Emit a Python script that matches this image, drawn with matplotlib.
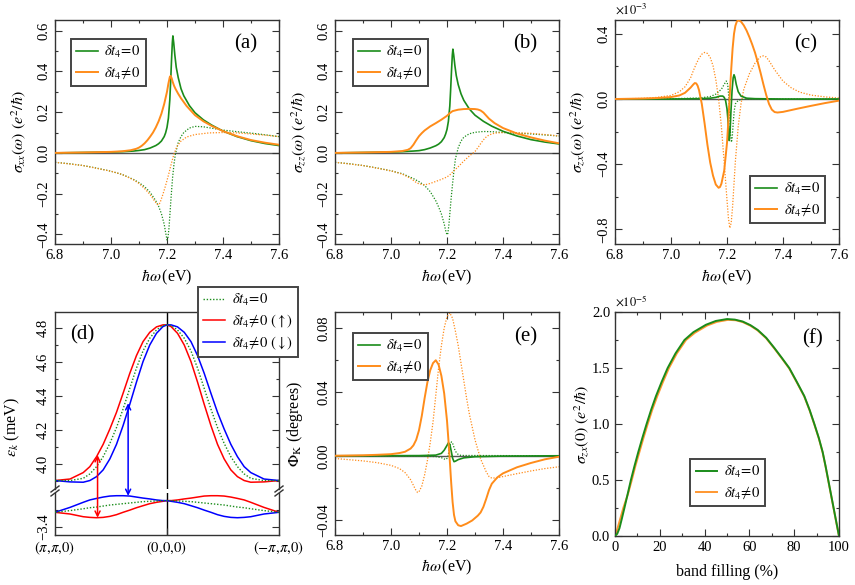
import matplotlib
matplotlib.use("Agg")
import matplotlib.pyplot as plt
from matplotlib.ticker import MultipleLocator, FixedLocator, FormatStrFormatter
from matplotlib.patches import ConnectionPatch
from matplotlib.lines import Line2D

plt.rcParams['font.family'] = ['Liberation Serif', 'DejaVu Serif']
plt.rcParams['mathtext.fontset'] = 'stix'
plt.rcParams['axes.unicode_minus'] = True

GREEN = '#1a8c1a'
ORANGE = '#ff8c1a'
lab0 = r'$\delta t_4\!=\!0$'
lab1 = r'$\delta t_4\!\neq\!0$'

# ---- (a) sigma_xx ----
a_xg = [6.80, 6.85, 6.90, 6.95, 7.00, 7.04, 7.08, 7.10, 7.12, 7.14, 7.16, 7.17, 7.18, 7.19, 7.195, 7.20, 7.205, 7.21, 7.213, 7.216, 7.219, 7.221, 7.224, 7.228, 7.233, 7.24, 7.25, 7.26, 7.28, 7.30, 7.33, 7.36, 7.40, 7.45, 7.50, 7.55, 7.60]
a_g = [0.000, 0.001, 0.002, 0.003, 0.004, 0.006, 0.009, 0.012, 0.016, 0.024, 0.036, 0.045, 0.058, 0.080, 0.098, 0.125, 0.170, 0.260, 0.350, 0.450, 0.540, 0.574, 0.540, 0.480, 0.420, 0.370, 0.315, 0.280, 0.232, 0.197, 0.162, 0.136, 0.107, 0.080, 0.060, 0.046, 0.036]
a_xo = [6.80, 6.90, 7.00, 7.04, 7.07, 7.09, 7.10, 7.11, 7.12, 7.13, 7.14, 7.15, 7.16, 7.17, 7.18, 7.19, 7.20, 7.205, 7.21, 7.213, 7.217, 7.22, 7.225, 7.23, 7.24, 7.25, 7.27, 7.30, 7.33, 7.36, 7.40, 7.45, 7.50, 7.55, 7.60]
a_o = [0.000, 0.002, 0.005, 0.008, 0.013, 0.020, 0.026, 0.035, 0.047, 0.062, 0.080, 0.100, 0.125, 0.155, 0.192, 0.240, 0.300, 0.340, 0.372, 0.378, 0.365, 0.350, 0.330, 0.315, 0.290, 0.268, 0.230, 0.185, 0.155, 0.132, 0.107, 0.082, 0.063, 0.050, 0.040]
a_xgd = [6.80, 6.85, 6.90, 6.95, 7.00, 7.04, 7.08, 7.10, 7.12, 7.14, 7.16, 7.17, 7.18, 7.19, 7.195, 7.20, 7.203, 7.207, 7.21, 7.215, 7.22, 7.225, 7.23, 7.24, 7.25, 7.26, 7.28, 7.30, 7.33, 7.36, 7.40, 7.45, 7.50, 7.55, 7.60]
a_gd = [-0.046, -0.053, -0.062, -0.075, -0.090, -0.106, -0.130, -0.146, -0.166, -0.194, -0.235, -0.262, -0.298, -0.350, -0.390, -0.427, -0.420, -0.370, -0.310, -0.210, -0.120, -0.055, -0.005, 0.050, 0.080, 0.100, 0.122, 0.130, 0.128, 0.121, 0.112, 0.104, 0.097, 0.089, 0.080]
a_xod = [6.80, 6.90, 7.00, 7.04, 7.08, 7.10, 7.12, 7.14, 7.155, 7.165, 7.17, 7.175, 7.185, 7.195, 7.205, 7.215, 7.225, 7.235, 7.25, 7.27, 7.30, 7.35, 7.40, 7.45, 7.50, 7.55, 7.60]
a_od = [-0.046, -0.062, -0.090, -0.106, -0.132, -0.150, -0.175, -0.205, -0.235, -0.252, -0.255, -0.245, -0.205, -0.160, -0.110, -0.055, -0.005, 0.030, 0.058, 0.078, 0.090, 0.098, 0.100, 0.098, 0.093, 0.087, 0.080]

# ---- (b) sigma_zz ----
b_xg = [6.80, 6.90, 7.00, 7.04, 7.08, 7.10, 7.12, 7.14, 7.16, 7.17, 7.18, 7.19, 7.195, 7.20, 7.205, 7.21, 7.213, 7.216, 7.219, 7.221, 7.224, 7.228, 7.233, 7.24, 7.25, 7.26, 7.28, 7.30, 7.33, 7.36, 7.40, 7.45, 7.50, 7.55, 7.60]
b_g = [0.000, 0.002, 0.004, 0.006, 0.009, 0.011, 0.016, 0.024, 0.035, 0.043, 0.055, 0.075, 0.092, 0.115, 0.155, 0.230, 0.310, 0.400, 0.480, 0.509, 0.480, 0.430, 0.380, 0.335, 0.290, 0.258, 0.215, 0.185, 0.155, 0.131, 0.106, 0.083, 0.065, 0.053, 0.044]
b_xo = [6.80, 6.90, 7.00, 7.04, 7.06, 7.07, 7.08, 7.09, 7.10, 7.11, 7.12, 7.14, 7.16, 7.18, 7.20, 7.21, 7.22, 7.24, 7.26, 7.28, 7.30, 7.31, 7.32, 7.33, 7.34, 7.35, 7.37, 7.40, 7.45, 7.50, 7.55, 7.60]
b_o = [0.000, 0.002, 0.005, 0.009, 0.015, 0.023, 0.040, 0.062, 0.082, 0.097, 0.110, 0.130, 0.146, 0.163, 0.182, 0.195, 0.205, 0.212, 0.215, 0.216, 0.215, 0.213, 0.208, 0.198, 0.183, 0.168, 0.146, 0.122, 0.095, 0.076, 0.060, 0.047]
b_xgd = [6.80, 6.85, 6.90, 6.95, 7.00, 7.04, 7.08, 7.10, 7.12, 7.14, 7.16, 7.17, 7.18, 7.19, 7.195, 7.20, 7.203, 7.207, 7.21, 7.215, 7.22, 7.225, 7.23, 7.24, 7.25, 7.26, 7.28, 7.30, 7.33, 7.36, 7.40, 7.45, 7.50, 7.55, 7.60]
b_gd = [-0.046, -0.053, -0.062, -0.074, -0.088, -0.102, -0.126, -0.141, -0.160, -0.190, -0.235, -0.265, -0.300, -0.348, -0.380, -0.402, -0.395, -0.350, -0.300, -0.220, -0.150, -0.085, -0.030, 0.025, 0.058, 0.077, 0.094, 0.101, 0.105, 0.104, 0.100, 0.097, 0.093, 0.088, 0.083]
b_xod = [6.80, 6.90, 7.00, 7.04, 7.07, 7.09, 7.10, 7.12, 7.14, 7.16, 7.18, 7.20, 7.21, 7.22, 7.24, 7.26, 7.28, 7.30, 7.31, 7.32, 7.33, 7.34, 7.35, 7.37, 7.40, 7.45, 7.50, 7.55, 7.60]
b_od = [-0.046, -0.062, -0.088, -0.104, -0.125, -0.145, -0.152, -0.157, -0.150, -0.140, -0.130, -0.118, -0.108, -0.094, -0.068, -0.040, -0.015, 0.007, 0.025, 0.045, 0.064, 0.078, 0.088, 0.097, 0.100, 0.099, 0.096, 0.090, 0.083]

# ---- (c) sigma_zx (units of 1e-3) ----
c_xo = [6.80, 6.90, 6.95, 7.00, 7.03, 7.05, 7.07, 7.08, 7.085, 7.09, 7.095, 7.10, 7.11, 7.12, 7.13, 7.14, 7.15, 7.16, 7.17, 7.175, 7.18, 7.19, 7.20, 7.205, 7.21, 7.215, 7.22, 7.225, 7.23, 7.235, 7.24, 7.25, 7.26, 7.27, 7.28, 7.29, 7.30, 7.31, 7.32, 7.33, 7.34, 7.35, 7.36, 7.37, 7.38, 7.40, 7.45, 7.50, 7.55, 7.60]
c_o = [0.000, 0.003, 0.006, 0.012, 0.022, 0.038, 0.070, 0.090, 0.098, 0.096, 0.082, 0.055, -0.030, -0.150, -0.280, -0.390, -0.470, -0.525, -0.545, -0.540, -0.520, -0.440, -0.270, -0.130, 0.030, 0.180, 0.310, 0.400, 0.450, 0.475, 0.484, 0.475, 0.452, 0.420, 0.380, 0.335, 0.285, 0.225, 0.160, 0.090, 0.025, -0.030, -0.065, -0.080, -0.083, -0.079, -0.060, -0.042, -0.025, -0.010]
c_xg = [6.80, 7.00, 7.10, 7.14, 7.16, 7.175, 7.185, 7.19, 7.195, 7.20, 7.203, 7.206, 7.208, 7.211, 7.214, 7.218, 7.222, 7.225, 7.228, 7.233, 7.24, 7.25, 7.27, 7.30, 7.40, 7.60]
c_g = [0.000, 0.000, 0.002, 0.005, 0.010, 0.018, 0.018, 0.010, -0.010, -0.060, -0.120, -0.200, -0.255, -0.200, -0.080, 0.050, 0.130, 0.149, 0.135, 0.090, 0.045, 0.018, 0.005, 0.002, 0.000, 0.000]
c_xgd = [6.80, 7.00, 7.10, 7.14, 7.16, 7.18, 7.19, 7.197, 7.20, 7.203, 7.207, 7.21, 7.213, 7.216, 7.219, 7.222, 7.226, 7.23, 7.24, 7.26, 7.60]
c_gd = [0.000, 0.002, 0.006, 0.015, 0.030, 0.060, 0.090, 0.110, 0.108, 0.080, 0.000, -0.110, -0.220, -0.265, -0.230, -0.150, -0.070, -0.030, -0.008, 0.000, 0.000]
c_xod = [6.80, 6.90, 6.95, 7.00, 7.03, 7.05, 7.07, 7.08, 7.09, 7.10, 7.11, 7.12, 7.13, 7.14, 7.15, 7.16, 7.17, 7.18, 7.19, 7.20, 7.205, 7.21, 7.215, 7.22, 7.225, 7.23, 7.24, 7.25, 7.26, 7.28, 7.30, 7.32, 7.33, 7.34, 7.35, 7.37, 7.40, 7.43, 7.46, 7.50, 7.55, 7.60]
c_od = [0.000, 0.004, 0.010, 0.022, 0.045, 0.075, 0.130, 0.175, 0.215, 0.250, 0.275, 0.286, 0.280, 0.255, 0.205, 0.120, 0.000, -0.170, -0.390, -0.620, -0.730, -0.792, -0.760, -0.660, -0.520, -0.380, -0.170, -0.030, 0.060, 0.155, 0.220, 0.260, 0.265, 0.258, 0.235, 0.180, 0.110, 0.068, 0.042, 0.024, 0.013, 0.006]

# ---- (d) band structure ----
d_x = [-1.000, -0.866, -0.748, -0.689, -0.629, -0.570, -0.510, -0.451, -0.392, -0.332, -0.273, -0.214, -0.154, -0.094, -0.036, 0.000,
       0.036, 0.094, 0.154, 0.214, 0.273, 0.332, 0.392, 0.451, 0.510, 0.570, 0.629, 0.689, 0.748, 0.866, 1.000]
d_up_g = [3.900, 3.900, 3.913, 3.939, 3.982, 4.041, 4.120, 4.213, 4.323, 4.445, 4.564, 4.666, 4.741, 4.790, 4.816, 4.820,
          4.816, 4.790, 4.741, 4.666, 4.564, 4.445, 4.323, 4.213, 4.120, 4.041, 3.982, 3.939, 3.913, 3.900, 3.900]
d_up_r = [3.900, 3.909, 3.947, 3.982, 4.041, 4.114, 4.205, 4.303, 4.416, 4.534, 4.638, 4.721, 4.776, 4.808, 4.820, 4.820,
          4.810, 4.770, 4.701, 4.603, 4.481, 4.351, 4.225, 4.114, 4.028, 3.963, 3.923, 3.900, 3.890, 3.892, 3.900]
d_up_b = [3.900, 3.892, 3.890, 3.900, 3.923, 3.963, 4.028, 4.114, 4.225, 4.351, 4.481, 4.603, 4.701, 4.770, 4.810, 4.820,
          4.820, 4.808, 4.776, 4.721, 4.638, 4.534, 4.416, 4.303, 4.205, 4.114, 4.041, 3.982, 3.947, 3.909, 3.900]
d_lo_g = [-3.313, -3.303, -3.292, -3.286, -3.282, -3.276, -3.270, -3.266, -3.262, -3.258, -3.254, -3.250, -3.248, -3.246, -3.244, -3.244,
          -3.244, -3.246, -3.248, -3.250, -3.254, -3.258, -3.262, -3.266, -3.270, -3.276, -3.282, -3.286, -3.292, -3.303, -3.313]
d_lo_r = [-3.313, -3.323, -3.339, -3.343, -3.345, -3.343, -3.337, -3.327, -3.313, -3.300, -3.286, -3.274, -3.262, -3.254, -3.248, -3.244,
          -3.244, -3.240, -3.234, -3.229, -3.223, -3.217, -3.215, -3.215, -3.217, -3.223, -3.231, -3.240, -3.254, -3.284, -3.313]
d_lo_b = [-3.313, -3.284, -3.254, -3.240, -3.231, -3.223, -3.217, -3.215, -3.215, -3.217, -3.223, -3.229, -3.234, -3.240, -3.244, -3.244,
          -3.248, -3.254, -3.262, -3.274, -3.286, -3.300, -3.313, -3.327, -3.337, -3.343, -3.345, -3.343, -3.339, -3.323, -3.313]
d_ticks = [-1, 0, 1]
d_ticklabels = [r'$(\pi,\!\pi,\!0)$', r'$(0,\!0,\!0)$', r'$(-\pi,\!\pi,\!0)$']
d_arrow_red = (-0.62, -3.345, 4.050)
d_arrow_blue = (-0.347, -3.216, 4.357)

# ---- (e) Kerr angle ----
e_xo = [6.80, 6.90, 6.95, 7.00, 7.03, 7.05, 7.07, 7.08, 7.09, 7.10, 7.11, 7.12, 7.13, 7.14, 7.15, 7.16, 7.17, 7.18, 7.19, 7.20, 7.205, 7.21, 7.215, 7.22, 7.225, 7.23, 7.24, 7.25, 7.27, 7.29, 7.31, 7.32, 7.33, 7.34, 7.35, 7.36, 7.38, 7.40, 7.45, 7.50, 7.55, 7.60]
e_o = [0.0000, 0.0003, 0.0006, 0.0010, 0.0017, 0.0025, 0.0045, 0.0065, 0.0100, 0.0160, 0.0250, 0.0360, 0.0460, 0.0535, 0.0580, 0.0598, 0.0570, 0.0500, 0.0390, 0.0220, 0.0100, -0.0030, -0.0170, -0.0290, -0.0370, -0.0410, -0.0435, -0.0440, -0.0425, -0.0405, -0.0375, -0.0355, -0.0320, -0.0270, -0.0215, -0.0175, -0.0135, -0.0110, -0.0072, -0.0045, -0.0022, -0.0006]
e_xod = [6.80, 6.90, 6.95, 7.00, 7.03, 7.05, 7.07, 7.08, 7.09, 7.095, 7.10, 7.11, 7.12, 7.13, 7.14, 7.15, 7.16, 7.17, 7.18, 7.19, 7.20, 7.21, 7.22, 7.23, 7.24, 7.25, 7.26, 7.27, 7.28, 7.30, 7.32, 7.34, 7.35, 7.36, 7.38, 7.40, 7.45, 7.50, 7.55, 7.60]
e_od = [-0.0017, -0.0032, -0.0043, -0.0060, -0.0080, -0.0105, -0.0150, -0.0185, -0.0220, -0.0230, -0.0225, -0.0190, -0.0120, -0.0030, 0.0080, 0.0210, 0.0380, 0.0550, 0.0690, 0.0800, 0.0870, 0.0895, 0.0860, 0.0780, 0.0690, 0.0580, 0.0470, 0.0360, 0.0260, 0.0100, -0.0020, -0.0100, -0.0130, -0.0140, -0.0138, -0.0130, -0.0112, -0.0095, -0.0080, -0.0069]
e_xg = [6.80, 7.10, 7.16, 7.18, 7.19, 7.20, 7.205, 7.21, 7.215, 7.22, 7.225, 7.23, 7.24, 7.26, 7.30, 7.40, 7.60]
e_g = [0.0000, 0.0001, 0.0004, 0.0015, 0.0035, 0.0065, 0.0081, 0.0072, 0.0030, -0.0015, -0.0037, -0.0034, -0.0024, -0.0013, -0.0006, -0.0002, 0.0000]
e_xgd = [6.80, 7.10, 7.16, 7.18, 7.19, 7.197, 7.203, 7.207, 7.212, 7.216, 7.22, 7.225, 7.23, 7.24, 7.25, 7.60]
e_gd = [0.0000, -0.0002, -0.0005, -0.0012, -0.0020, -0.0023, -0.0010, 0.0030, 0.0075, 0.0087, 0.0078, 0.0052, 0.0028, 0.0008, 0.0002, 0.0000]

# ---- (f) dc Hall conductivity (units of 1e-5) ----
f_xg = [0, 1, 2, 3, 4.2, 5.6, 7.1, 8.7, 10.4, 12.2, 14.1, 16.1, 18.3, 20.8, 23.5, 27, 31, 35, 40.6, 45, 50, 53.5, 57, 60.5, 63.7, 67.5, 71.1, 74.5, 77.8, 81.2, 84.5, 86.9, 89, 91, 92.7, 94, 95.2, 96.4, 97.6, 98.8, 100]
f_g = [0, 0.02, 0.07, 0.15, 0.25, 0.37, 0.50, 0.625, 0.75, 0.875, 1.00, 1.125, 1.25, 1.375, 1.50, 1.63, 1.75, 1.82, 1.886, 1.920, 1.937, 1.932, 1.915, 1.882, 1.840, 1.770, 1.680, 1.590, 1.500, 1.375, 1.250, 1.125, 1.000, 0.875, 0.750, 0.625, 0.500, 0.375, 0.250, 0.125, 0]
f_xo = [0, 1, 2, 3, 3.7, 5.8, 7.5, 9.1, 10.9, 12.7, 14.6, 16.6, 18.9, 21.4, 24.1, 27.6, 31.7, 35.7, 41.2, 45.5, 50.5, 54, 57, 60.5, 63.7, 67.5, 71.1, 74.5, 77.8, 81.2, 84.5, 86.9, 89, 91, 92.7, 94, 95.2, 96.4, 97.6, 98.8, 100]
f_o = [0, 0.06, 0.13, 0.20, 0.25, 0.375, 0.50, 0.625, 0.75, 0.875, 1.00, 1.125, 1.25, 1.375, 1.50, 1.63, 1.75, 1.815, 1.880, 1.912, 1.930, 1.926, 1.910, 1.877, 1.835, 1.765, 1.675, 1.585, 1.495, 1.370, 1.245, 1.120, 0.995, 0.870, 0.745, 0.620, 0.495, 0.370, 0.245, 0.120, 0]


W, H = 855, 585
fig = plt.figure(figsize=(8.55, 5.85), dpi=100)


def box(left, top, w, h):
    return [left / W, 1 - (top + h) / H, w / W, h / H]


def style(ax, xmin=None, ymin=None):
    ax.tick_params(which='both', direction='in', top=True, right=True, labelsize=10.5,
                   width=0.8, color='#333333')
    ax.tick_params(which='major', length=5)
    ax.tick_params(which='minor', length=2.5)
    for s in ax.spines.values():
        s.set_linewidth(1.0)
        s.set_color('#333333')
    if xmin is not None:
        ax.xaxis.set_minor_locator(MultipleLocator(xmin))
    if ymin is not None:
        ax.yaxis.set_minor_locator(MultipleLocator(ymin))


def rot_y(ax, ticks, fmt):
    ax.yaxis.set_major_locator(FixedLocator(ticks))
    ax.set_yticklabels([(fmt % t).replace('-', '\u2212') for t in ticks], rotation=90, va='center')


def labels(ax, xl, xy, yl, yx, yy=0.5):
    if xl:
        ax.set_xlabel(xl, fontsize=11.5)
        ax.xaxis.label.set_va('center')
        ax.xaxis.set_label_coords(0.5, xy)
    ax.set_ylabel(yl, fontsize=11.5)
    ax.yaxis.label.set_va('center')
    ax.yaxis.set_label_coords(yx, yy)


def legend(ax, handles, labs, **kw):
    leg = ax.legend(handles, labs, fontsize=10.5, frameon=True, fancybox=False,
                    borderaxespad=0, handlelength=1.5, handletextpad=0.45,
                    borderpad=0.35, labelspacing=0.3, framealpha=1, **kw)
    leg.get_frame().set_edgecolor('#444444')
    leg.get_frame().set_linewidth(1.4)
    return leg


def omega_panel(ax, xg, g, xo, o, xgd, gd, xod, od, ylim, ticks, fmt, tag, yminor):
    ax.axhline(0, color='#555555', lw=1.0, zorder=1)
    ax.plot(xgd, gd, color=GREEN, lw=0.9, ls=(0, (1, 1.3)), zorder=2)
    ax.plot(xod, od, color=ORANGE, lw=0.9, ls=(0, (1, 1.3)), zorder=2)
    hg, = ax.plot(xg, g, color=GREEN, lw=1.2, zorder=3)
    ho, = ax.plot(xo, o, color=ORANGE, lw=1.4, zorder=3)
    ax.set_xlim(6.8, 7.6)
    ax.set_ylim(*ylim)
    ax.xaxis.set_major_locator(MultipleLocator(0.2))
    ax.xaxis.set_major_formatter(FormatStrFormatter('%.1f'))
    style(ax, 0.1, yminor)
    rot_y(ax, ticks, fmt)
    ax.text(0.85, 0.895, tag, transform=ax.transAxes, fontsize=15, ha='center', va='center')
    return hg, ho


XL = r'$\hbar\omega\,$(eV)'

# (a)
ax_a = fig.add_axes(box(55, 20, 224, 224))
hg, ho = omega_panel(ax_a, a_xg, a_g, a_xo, a_o, a_xgd, a_gd, a_xod, a_od, (-0.447, 0.652),
                     [-0.4, -0.2, 0.0, 0.2, 0.4, 0.6], '%.1f', '(a)', 0.1)
legend(ax_a, [hg, ho], [lab0, lab1], loc='upper left', bbox_to_anchor=(0.071, 0.915))
labels(ax_a, XL, -0.147, r'$\sigma_{xx}(\omega)\ (e^2/\hbar)$', -0.165)

# (b)
ax_b = fig.add_axes(box(335, 20, 224, 224))
hg, ho = omega_panel(ax_b, b_xg, b_g, b_xo, b_o, b_xgd, b_gd, b_xod, b_od, (-0.447, 0.652),
                     [-0.4, -0.2, 0.0, 0.2, 0.4, 0.6], '%.1f', '(b)', 0.1)
legend(ax_b, [hg, ho], [lab0, lab1], loc='upper left', bbox_to_anchor=(0.08, 0.915))
labels(ax_b, XL, -0.147, r'$\sigma_{zz}(\omega)\ (e^2/\hbar)$', -0.16)

# (c)
ax_c = fig.add_axes(box(615, 20, 224, 224))
hg, ho = omega_panel(ax_c, c_xg, c_g, c_xo, c_o, c_xgd, c_gd, c_xod, c_od, (-0.89, 0.485),
                     [-0.8, -0.4, 0.0, 0.4], '%.1f', '(c)', 0.2)
legend(ax_c, [hg, ho], [lab0, lab1], loc='lower right', bbox_to_anchor=(0.9375, 0.094))
ax_c.text(0.0, 1.015, r'$\times10^{-3}$', transform=ax_c.transAxes, fontsize=9, ha='left', va='bottom')
labels(ax_c, XL, -0.147, r'$\sigma_{zx}(\omega)\ (e^2/\hbar)$', -0.165)

# (d) broken axis
ax_du = fig.add_axes(box(55, 312, 224, 177))
ax_dl = fig.add_axes(box(55, 493, 224, 42))
for ax in (ax_du, ax_dl):
    ax.axvline(0, color='black', lw=1.0, zorder=1)
    ax.set_xlim(-1, 1)
    style(ax)
    ax.tick_params(axis='x', which='both', top=False)
h1, = ax_du.plot(d_x, d_up_g, color=GREEN, lw=1.0, ls=(0, (1, 1.3)), zorder=3)
h2, = ax_du.plot(d_x, d_up_r, color='red', lw=1.1, zorder=2)
h3, = ax_du.plot(d_x, d_up_b, color='blue', lw=1.1, zorder=2)
ax_dl.plot(d_x, d_lo_r, color='red', lw=1.1, zorder=2)
ax_dl.plot(d_x, d_lo_b, color='blue', lw=1.1, zorder=2)
ax_dl.plot(d_x, d_lo_g, color=GREEN, lw=1.0, ls=(0, (1, 1.3)), zorder=3)
ax_du.set_ylim(3.850, 4.896)
ax_dl.set_ylim(-3.447, -3.199)
ax_du.spines['bottom'].set_visible(False)
ax_dl.spines['top'].set_visible(False)
ax_du.tick_params(axis='x', which='both', bottom=False, labelbottom=False)
rot_y(ax_du, [4.0, 4.2, 4.4, 4.6, 4.8], '%.1f')
ax_du.yaxis.set_minor_locator(FixedLocator([3.9, 4.1, 4.3, 4.5, 4.7]))
rot_y(ax_dl, [-3.4], '%.1f')
ax_dl.yaxis.set_minor_locator(FixedLocator([-3.3]))
ax_dl.xaxis.set_major_locator(FixedLocator(d_ticks))
ax_dl.set_xticklabels(d_ticklabels, fontsize=10.5)
labels(ax_du, None, None, r'$\varepsilon_{k}$ (meV)', -0.19, 0.35)
ax_du.text(0.12, 0.87, '(d)', transform=ax_du.transAxes, fontsize=15, ha='center', va='center')
for (xa, ylo, yup), col in ((d_arrow_red, 'red'), (d_arrow_blue, 'blue')):
    con = ConnectionPatch(xyA=(xa, ylo), coordsA=ax_dl.transData, xyB=(xa, yup), coordsB=ax_du.transData,
                          arrowstyle='<->', color=col, lw=1.1, mutation_scale=9, zorder=4)
    fig.add_artist(con)
# break marks
for xp in (55, 279):
    for yp in (489, 493):
        fig.add_artist(Line2D([(xp - 4) / W, (xp + 4) / W], [1 - (yp + 3) / H, 1 - (yp - 3) / H],
                              color='#333333', lw=1.0))
leg_d = legend(ax_du, [h1, h2, h3], [lab0, lab1 + r' $(\uparrow)$', lab1 + r' $(\downarrow)$'],
               loc='upper left', bbox_to_anchor=(198 / W, 1 - 287 / H), bbox_transform=fig.transFigure)
leg_d.set_zorder(10)

# (e)
ax_e = fig.add_axes(box(335, 312, 224, 223))
hg, ho = omega_panel(ax_e, e_xg, e_g, e_xo, e_o, e_xgd, e_gd, e_xod, e_od, (-0.0496, 0.09),
                     [-0.04, 0.0, 0.04, 0.08], '%.2f', '(e)', 0.02)
legend(ax_e, [hg, ho], [lab0, lab1], loc='upper left', bbox_to_anchor=(0.08, 0.906))
labels(ax_e, XL, -0.145, r'$\Phi_{\rm K}$ (degrees)', -0.18)
ax_e.texts[0].set_position((0.85, 0.89))

# (f)
ax_f = fig.add_axes(box(615, 312, 224, 224))
hg, = ax_f.plot(f_xg, f_g, color=GREEN, lw=1.4, zorder=3)
ho, = ax_f.plot(f_xo, f_o, color=ORANGE, lw=1.4, zorder=2, alpha=0.9)
ax_f.set_xlim(0, 100)
ax_f.set_ylim(0, 2.0)
ax_f.xaxis.set_major_locator(MultipleLocator(20))
ax_f.yaxis.set_major_locator(MultipleLocator(0.5))
ax_f.yaxis.set_major_formatter(FormatStrFormatter('%.1f'))
style(ax_f, 10, 0.25)
labels(ax_f, 'band filling (%)', -0.16, r'$\sigma_{zx}(0)\ (e^2/\hbar)$', -0.15)
ax_f.text(0.0, 1.012, r'$\times10^{-5}$', transform=ax_f.transAxes, fontsize=9, ha='left', va='bottom')
ax_f.text(0.88, 0.88, '(f)', transform=ax_f.transAxes, fontsize=15, ha='center', va='center')
legend(ax_f, [hg, ho], [lab0, lab1], loc='lower center', bbox_to_anchor=(0.504, 0.134))

fig.savefig('out.png', dpi=100)
